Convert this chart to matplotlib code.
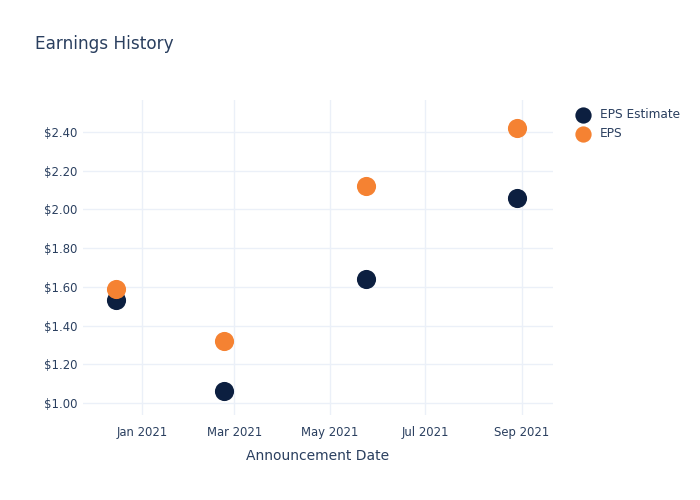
import matplotlib
matplotlib.use("Agg")
import matplotlib.pyplot as plt
import matplotlib.dates as mdates
import pandas as pd

dates = ["2020-12-15", "2021-02-22", "2021-05-24", "2021-08-29"]
eps_estimate = [1.53, 1.06, 1.64, 2.06]
eps_actual = [1.59, 1.32, 2.12, 2.42]
series_names = ["EPS Estimate", "EPS"]
yticks = [1.0, 1.2, 1.4, 1.6, 1.8, 2.0, 2.2, 2.4]
xticks = ["2021-01-01", "2021-03-01", "2021-05-01", "2021-07-01", "2021-09-01"]

txt = "#2a3f5f"
grid = "#ebf0f8"
navy = "#0c1f40"
orange = "#f58232"

plt.rcParams['font.family'] = ['DejaVu Sans']
fig = plt.figure(figsize=(7, 5), dpi=100)
ax = fig.add_axes([83/700, 85/500, 470/700, 315/500])

x = pd.to_datetime(dates)
ax.scatter(x, eps_estimate, s=190, color=navy, zorder=3, linewidths=0, label=series_names[0])
ax.scatter(x, eps_actual, s=190, color=orange, zorder=4, linewidths=0, label=series_names[1])

ax.set_xlim(pd.Timestamp("2020-11-24"), pd.Timestamp("2021-09-21"))
ax.set_ylim(0.938, 2.565)
ax.set_yticks(yticks)
ax.set_yticklabels([f"${v:.2f}" for v in yticks])
ax.set_xticks(pd.to_datetime(xticks))
ax.xaxis.set_major_formatter(mdates.DateFormatter("%b %Y"))

ax.grid(True, color=grid, linewidth=1)
ax.set_axisbelow(True)
for s in ax.spines.values():
    s.set_visible(False)
ax.tick_params(length=0, colors=txt, labelsize=8.4)
ax.tick_params(axis="y", pad=4)
ax.tick_params(axis="x", pad=8)
ax.set_xlabel("Announcement Date", color=txt, fontsize=10, labelpad=7)

fig.text(35/700, 1 - 44/500, "Earnings History", color=txt, fontsize=12.2, va="center", ha="left")

leg = fig.legend(loc="upper left", bbox_to_anchor=(566/700, 1 - 103/500), frameon=False,
                 fontsize=8.7, labelcolor=txt, handletextpad=0.4, labelspacing=0.55,
                 markerscale=0.85, borderaxespad=0)

fig.savefig("out.png", dpi=100)
